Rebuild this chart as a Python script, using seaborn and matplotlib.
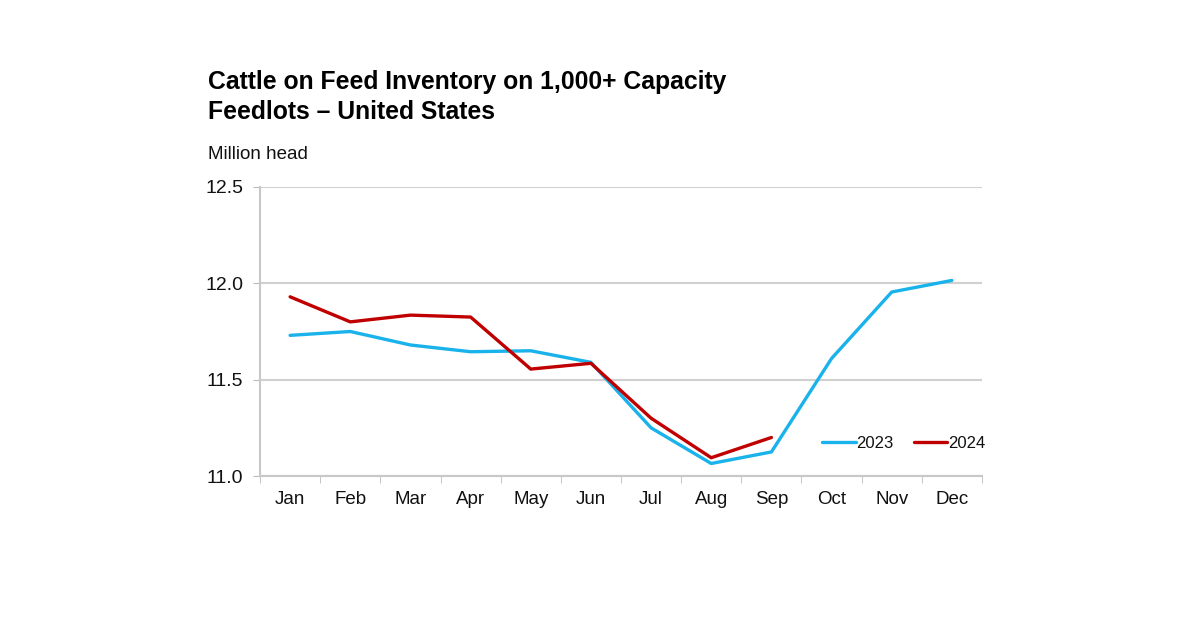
import pandas as pd
import matplotlib.pyplot as plt
import seaborn as sns
from matplotlib.ticker import FixedLocator

months = ["Jan", "Feb", "Mar", "Apr", "May", "Jun", "Jul", "Aug", "Sep", "Oct", "Nov", "Dec"]
inv_2023 = [11.73, 11.75, 11.68, 11.645, 11.65, 11.59, 11.25, 11.065, 11.125, 11.61, 11.955, 12.015]
inv_2024 = [11.93, 11.80, 11.835, 11.825, 11.555, 11.585, 11.30, 11.095, 11.20]

rows = []
for i, v in enumerate(inv_2023):
    rows.append({"pos": i, "Month": months[i], "Year": "2023", "Inventory": v})
for i, v in enumerate(inv_2024):
    rows.append({"pos": i, "Month": months[i], "Year": "2024", "Inventory": v})
df = pd.DataFrame(rows)

sns.set_style("white")
plt.rcParams["font.family"] = ["Liberation Sans", "DejaVu Sans"]
plt.rcParams["text.color"] = "#111111"
plt.rcParams["xtick.color"] = "#111111"
plt.rcParams["ytick.color"] = "#111111"

fig = plt.figure(figsize=(12, 6.3), dpi=100)
ax = fig.add_axes([0.2167, 0.2444, 0.6016, 0.4588])

#Drawing the two years as lines
sns.lineplot(data=df, x="pos", y="Inventory", hue="Year",
             palette={"2023": "#1AB2EB", "2024": "#C00000"},
             linewidth=2.4, ax=ax)

ax.set_xlim(-0.5, 11.5)
ax.set_ylim(11.0, 12.5)
ax.set_yticks([11.0, 11.5, 12.0, 12.5])
ax.set_yticklabels(["11.0", "11.5", "12.0", "12.5"], fontsize=14)
ax.set_xticks(range(12))
ax.set_xticklabels(months, fontsize=13.5)
ax.xaxis.set_minor_locator(FixedLocator([x + 0.5 for x in range(-1, 12)]))
ax.tick_params(axis="x", which="major", length=0, pad=11)
ax.tick_params(axis="x", which="minor", length=5, color="#BBBBBB", bottom=True)
ax.tick_params(axis="y", length=5, color="#BBBBBB", left=True, pad=7)
ax.set_xlabel("")
ax.set_ylabel("")

ax.grid(axis="y", color="#D0D0D0", linewidth=1.5)
for s in ["top", "right"]:
    ax.spines[s].set_visible(False)
for s in ["left", "bottom"]:
    ax.spines[s].set_color("#C8C8C8")
    ax.spines[s].set_linewidth(1.5)

ax.legend(title=None, ncol=2, frameon=False, fontsize=12,
          loc="lower right", bbox_to_anchor=(1.025, 0.035),
          handlelength=2.0, handletextpad=0.05, columnspacing=1.2)

fig.text(0.173, 0.846, "Cattle on Feed Inventory on 1,000+ Capacity\nFeedlots \u2013 United States",
         fontsize=17.8, fontweight="bold", va="center", linespacing=1.3, color="black")
fig.text(0.173, 0.754, "Million head", fontsize=13.5, va="center")

fig.savefig("out.png", dpi=100, facecolor="white")
